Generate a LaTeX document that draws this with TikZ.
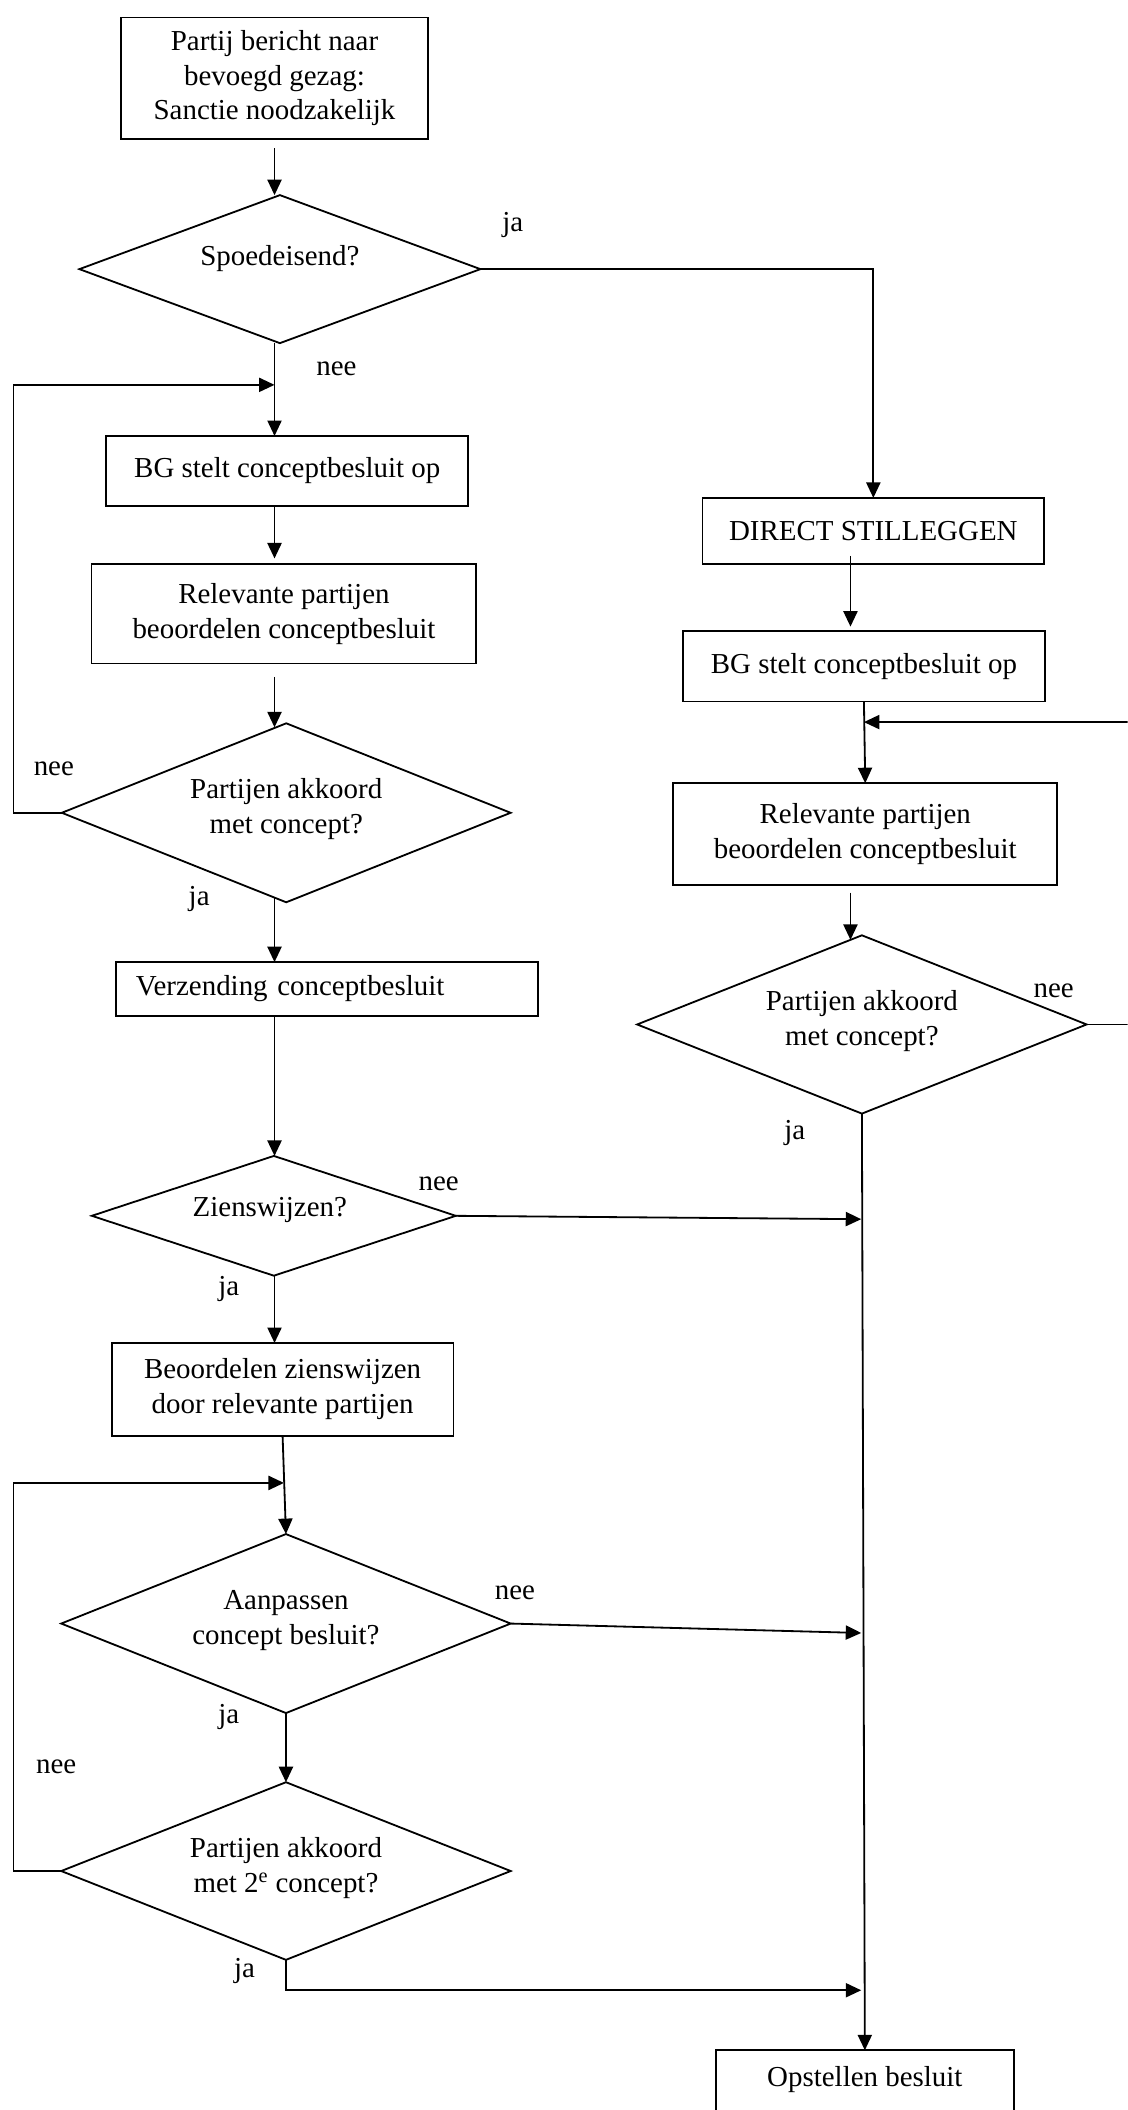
\documentclass[tikz,border=0pt]{standalone}
\usepackage{fontspec}
\setmainfont{Liberation Serif}
\usetikzlibrary{shapes.geometric,arrows.meta}
\tikzset{
  arr/.style={line width=1.35pt,-{Triangle[length=11.5pt,width=10.5pt]}},
  box/.style={draw,line width=1.35pt,rectangle,inner sep=0pt,outer sep=0pt,align=center},
  dia/.style={draw,line width=1.35pt,diamond,inner sep=0pt,outer sep=0pt},
  txt/.style={inner sep=0pt,align=center},
}
\begin{document}
\begin{tikzpicture}[x=1pt,y=-1pt,font=\fontsize{21.5}{26}\selectfont]
\useasboundingbox (0,0) rectangle (838,1568);
\clip (0,0) rectangle (838,1568);
% column coordinates
\coordinate (cl) at (204,0);
\coordinate (cm) at (632,0);
\coordinate (cr) at (640,0);
\coordinate (l1) at (10,0);
\coordinate (rx) at (850,0);
\coordinate (j1) at (204,286);
\coordinate (j2) at (211,1102);
\coordinate (j3) at (640,1479);
\coordinate (j4) at (642,536.6);
% left column
\node[box,minimum width=228,minimum height=90] (b1) at (204,58) {Partij bericht naar\\bevoegd gezag:\\Sanctie noodzakelijk};
\node[dia,minimum width=298,minimum height=110] (d1) at (208,200) {};
\node[txt] (t1) at (208,192) {Spoedeisend?};
\node[box,minimum width=269,minimum height=52] (bg1) at (213.5,350) {BG stelt conceptbesluit op};
\node[box,minimum width=286,minimum height=74] (rel1) at (211,456) {Relevante partijen\\beoordelen conceptbesluit};
\node[dia,minimum width=333.5,minimum height=133] (d2) at (212.7,604) {};
\node[txt] (t2) at (212.7,601) {Partijen akkoord\\met concept?};
\node[box,minimum width=314,minimum height=40,inner xsep=15pt,text width=284pt,align=left] (verz) at (243,735) {Verzending conceptbesluit};
\node[dia,minimum width=270.5,minimum height=89] (d3) at (203.5,903.5) {};
\node[txt] (t3) at (200.5,899) {Zienswijzen?};
\node[box,minimum width=254,minimum height=69] (beo) at (210,1032.5) {Beoordelen zienswijzen\\door relevante partijen};
\node[dia,minimum width=334,minimum height=133] (d4) at (212.5,1206.5) {};
\node[txt] (t4) at (212.5,1204) {Aanpassen\\concept besluit?};
\node[dia,minimum width=334,minimum height=132] (d5) at (212.5,1390.4) {};
\node[txt] (t5) at (212.5,1388) {Partijen akkoord\\met 2\textsuperscript{e} concept?};
% right column
\node[box,minimum width=254,minimum height=49] (direct) at (649,394.5) {DIRECT STILLEGGEN};
\node[box,minimum width=268.6,minimum height=52.7] (bg2) at (642,495) {BG stelt conceptbesluit op};
\node[box,minimum width=285.4,minimum height=75.4] (rel2) at (643,619.7) {Relevante partijen\\beoordelen conceptbesluit};
\node[dia,minimum width=334,minimum height=132.5] (d6) at (640.5,761.3) {};
\node[txt] (t6) at (640.5,759) {Partijen akkoord\\met concept?};
\node[box,minimum width=221.8,minimum height=80] (opst) at (642.7,1563.6) {};
\node[txt] (t7) at (642.7,1545) {Opstellen besluit};
% labels
\node[txt] (la1) at (381,167) {ja};
\node[txt] (la2) at (250,274) {nee};
\node[txt] (la3) at (40,571) {nee};
\node[txt] (la4) at (148,668) {ja};
\node[txt] (la5) at (326,880) {nee};
\node[txt] (la6) at (170,958) {ja};
\node[txt] (la7) at (382.7,1184) {nee};
\node[txt] (la8) at (170,1276) {ja};
\node[txt] (la9) at (41.7,1313) {nee};
\node[txt] (la10) at (181.7,1465) {ja};
\node[txt] (la11) at (783,736) {nee};
\node[txt] (la12) at (590.6,842) {ja};
% connectors left
\draw[arr] ([yshift=-7pt]cl |- b1.south) -- (cl |- d1.north);
\draw[arr] (d1.east) -| (direct.north);
\draw[arr] (cl |- d1.south) -- (cl |- bg1.north);
\draw[arr] (d2.west) -- (d2.west -| l1) |- (j1);
\draw[arr] (cl |- bg1.south) -- ([yshift=4pt]cl |- rel1.north);
\draw[arr] ([yshift=-10pt]cl |- rel1.south) -- ([yshift=-3pt]cl |- d2.north);
\draw[arr] ([yshift=3.5pt]cl |- d2.south) -- (cl |- verz.north);
\draw[arr] (cl |- verz.south) -- (cl |- d3.north);
\draw[arr] (d3.east) -- ([yshift=-2.5pt]cr |- d3.east);
\draw[arr] (cl |- d3.south) -- (cl |- beo.north);
\draw[arr] (beo.south) -- (d4.north);
\draw[arr] (d5.west) -- (d5.west -| l1) |- (j2);
\draw[arr] (d4.east) -- ([yshift=-7pt]cr |- d4.east);
\draw[arr] (d4.south) -- (d5.north);
\draw[arr] (d5.south) |- (j3);
% connectors right
\draw[arr] ([yshift=6pt]cm |- direct.south) -- ([yshift=3pt]cm |- bg2.north);
\draw[arr] (bg2.south) -- (rel2.north);
\draw[arr] (d6.east) -- (d6.east -| rx) |- (j4);
\draw[arr] ([yshift=-6pt]cm |- rel2.south) -- ([yshift=-3.4pt]cm |- d6.north);
\draw[arr] (d6.south) -- (opst.north);
\end{tikzpicture}
\end{document}
